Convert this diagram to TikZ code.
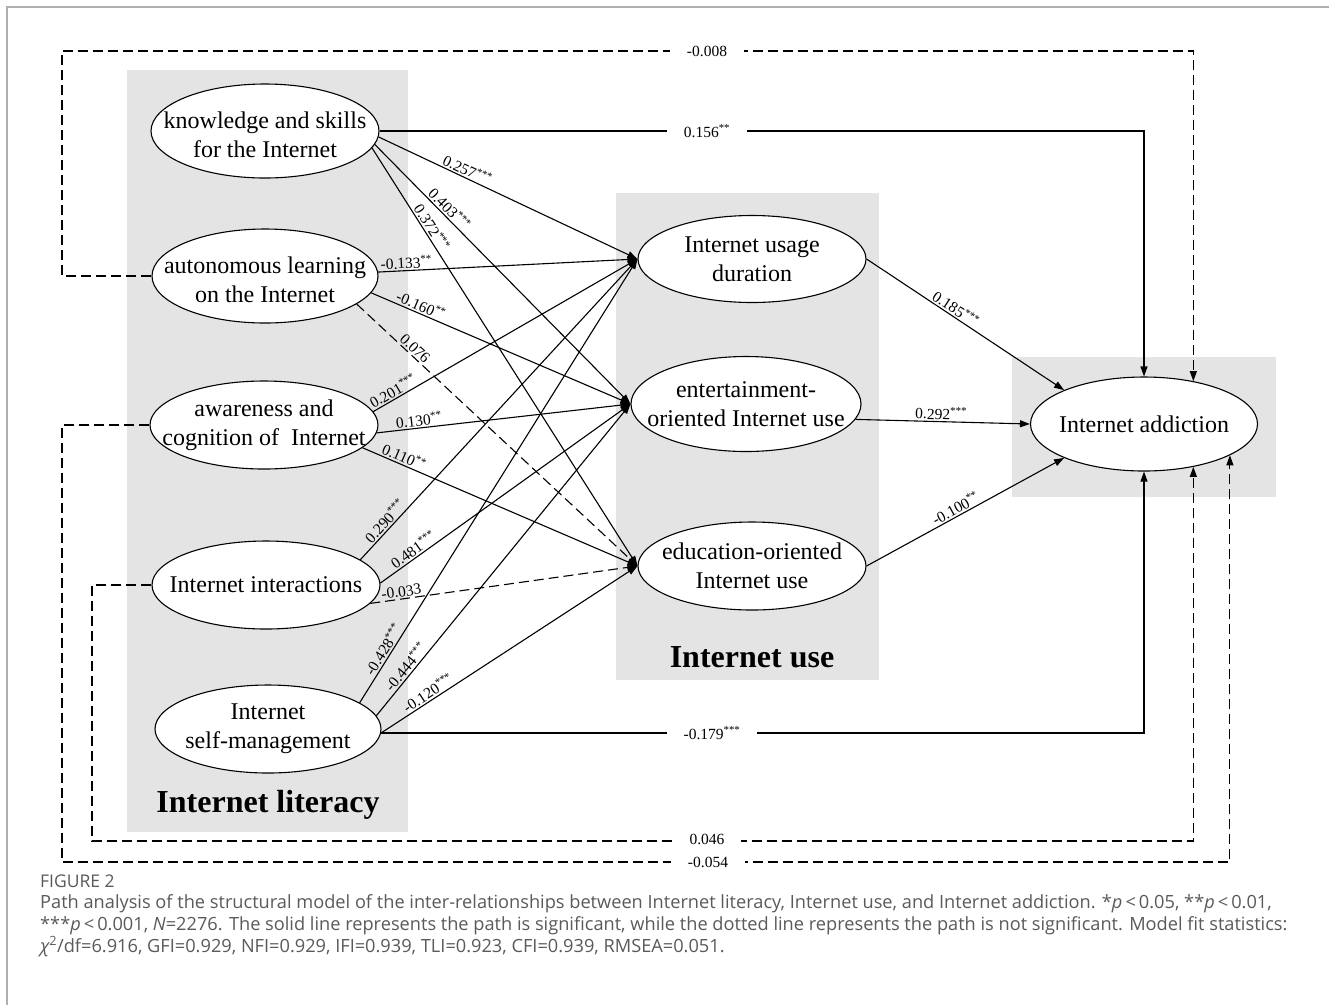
\documentclass[tikz,border=0pt]{standalone}
\usepackage{fontspec}
\setmainfont{Liberation Serif}
\newfontfamily\capfont{Open Sans}
\usetikzlibrary{shapes.geometric,arrows.meta}
\definecolor{boxgray}{RGB}{228,228,228}
\definecolor{capgray}{RGB}{90,90,90}
\definecolor{framegray}{RGB}{175,175,175}
\newcommand{\st}[1]{\textsuperscript{#1}}

\begin{document}
\begin{tikzpicture}[x=1pt,y=-1pt,
  var/.style={ellipse,draw,fill=white,line width=1.1pt,inner sep=0pt,minimum width=228pt,minimum height=90pt},
  vtext/.style={align=center,font=\fontsize{24}{29}\selectfont,inner sep=0pt},
  sig/.style={line width=1.1pt,-{Triangle[length=10pt,width=7pt]}},
  nsig/.style={sig,dash pattern=on 10pt off 5pt},
  lab/.style={font=\fontsize{15.5}{17}\selectfont,sloped,above,inner sep=1.5pt},
  lng/.style={font=\fontsize{15.5}{17}\selectfont,fill=white,inner xsep=17pt,inner ysep=2pt},
  ttl/.style={font=\fontsize{32}{36}\selectfont\bfseries},
  captext/.style={font=\capfont\fontsize{18.2}{22}\selectfont,text=capgray,inner sep=0pt,anchor=base west}]
  \useasboundingbox (0,0) rectangle (1329,1005);
  \fill[white] (0,0) rectangle (1329,1005);
  \draw[framegray,line width=1.5pt] (7,1005) -- (7,7) -- (1329,7);

  % shaded groups
  \fill[boxgray] (127,70) rectangle (408,832);
  \fill[boxgray] (616,193) rectangle (879,680);
  \fill[boxgray] (1012,357) rectangle (1276,497);
  \node[ttl] (littitle) at (268,805) {Internet literacy};
  \node[ttl] (usetitle) at (752,657) {Internet use};

  % variables
  \node[var,minimum height=94pt] (know) at (265,131) {};
  \node[vtext,yshift=-4pt] at (know) {knowledge and skills\\for the Internet};
  \node[var,minimum width=226pt,minimum height=94pt] (auto) at (265,276) {};
  \node[vtext,yshift=-4pt] at (auto) {autonomous learning\\on the Internet};
  \node[var,minimum height=88pt] (aware) at (264,425) {};
  \node[vtext] at (aware) {awareness and\\cognition of~ Internet};
  \node[var,minimum height=88pt] (inter) at (266,585) {};
  \node[vtext] at (inter) {Internet interactions};
  \node[var,minimum width=226pt,minimum height=88pt] (selfm) at (268,729) {};
  \node[vtext] at (selfm) {Internet\\self-management};

  \node[var,minimum height=87pt] (dur) at (752,259) {};
  \node[vtext] at (dur) {Internet usage\\duration};
  \node[var,minimum width=230pt,minimum height=95pt] (ent) at (746,404) {};
  \node[vtext] at (ent) {entertainment-\\oriented Internet use};
  \node[var,minimum height=88pt] (edu) at (752,566) {};
  \node[vtext] at (edu) {education-oriented\\Internet use};

  \node[var,minimum width=227pt,minimum height=94pt] (addict) at (1144,424) {};
  \node[vtext] at (addict) {Internet addiction};

  % literacy -> use
  \foreach \s/\t/\p/\l in {know.-3/dur/0.33/0.257\st{***}, know.-7/ent/0.27/0.403\st{***},
      know.-9/edu/0.20/0.372\st{***}, auto.2/dur/0.11/-0.133\st{**}, auto.-9/ent/0.18/-0.160\st{**},
      aware.7/dur/0.09/0.201\st{***}, aware.-4/ent/0.17/0.130\st{**}, aware.-13/edu/0.14/0.110\st{**},
      inter.15/dur/0.11/0.290\st{***}, inter.1/ent/0.15/0.481\st{***},
      selfm.16/dur/0.11/-0.428\st{***}, selfm.7/ent/0.14/-0.444\st{***}, selfm.-2/edu/0.20/-0.120\st{***}}
    \draw[sig] (\s) -- (\t.west) node[lab,pos=\p] {\l};
  \draw[nsig] (auto.-17) -- (edu.west) node[lab,pos=0.19] {0.076};
  \draw[nsig] (inter.-10) -- (edu.west) node[lab,pos=0.12] {-0.033};

  % use -> addiction
  \draw[sig] (dur.east) -- (addict.157) node[lab,pos=0.43] {0.185\st{***}};
  \draw[sig] (ent.-8) -- (addict.west) node[lab,pos=0.49] {0.292\st{***}};
  \draw[sig] (edu.east) -- (addict.203) node[lab,pos=0.47] {-0.100\st{**}};

  % direct paths
  \draw[sig] (know.east) -| (addict.north);
  \node[lng] (l156) at (707,131) {0.156\st{**}};
  \draw[sig] (selfm.-2) -| (addict.south);
  \node[lng] (l179) at (712,733) {-0.179\st{***}};
  \draw[nsig] (auto.west) -| (62,51) -| (addict.41.6);
  \node[lng] (l008) at (707,51) {-0.008};
  \draw[nsig] (inter.west) -| (92,841) -| (addict.-41.6);
  \node[lng] (l046) at (707,839) {0.046};
  \draw[nsig] (aware.west) -| (62,862) -| (addict.-20);
  \node[lng] (l054) at (708,862) {-0.054};

  % caption
  \node[captext,font=\capfont\fontsize{17.5}{21}\selectfont] (fig) at (40,887) {FIGURE 2};
  \node[captext] (cap1) at (40,908) {Path analysis of the structural model of the inter-relationships between Internet literacy, Internet use, and Internet addiction. *\textit{p}\,<\,0.05, **\textit{p}\,<\,0.01,};
  \node[captext] (cap2) at (40,930) {***\textit{p}\,<\,0.001, \textit{N}=2276. The solid line represents the path is significant, while the dotted line represents the path is not significant. Model fit statistics:};
  \node[captext] (cap3) at (40,952) {{\itshape χ}\textsuperscript{2}/df=6.916, GFI=0.929, NFI=0.929, IFI=0.939, TLI=0.923, CFI=0.939, RMSEA=0.051.};
\end{tikzpicture}
\end{document}
